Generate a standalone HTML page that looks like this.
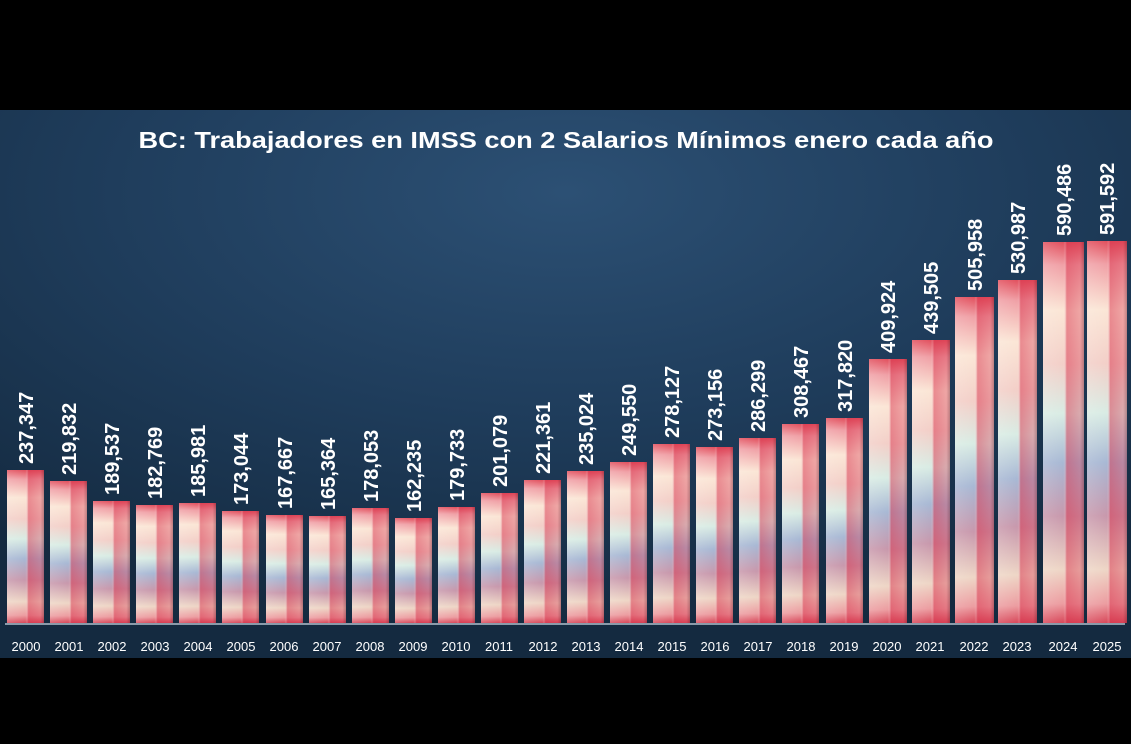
<!DOCTYPE html>
<html><head><meta charset="utf-8"><style>
html,body{margin:0;padding:0;background:#000;}
svg{display:block;}
text{font-family:"Liberation Sans",sans-serif;font-weight:bold;fill:#fff;}
text.y{font-weight:normal;}
</style></head><body>
<svg width="1131" height="744" viewBox="0 0 1131 744" xmlns="http://www.w3.org/2000/svg">
<defs>
<radialGradient id="bg" cx="0.5" cy="0.15" r="0.8">
<stop offset="0" stop-color="#2c5074"/><stop offset="0.5" stop-color="#1f3d5c"/><stop offset="1" stop-color="#142a40"/>
</radialGradient>
<linearGradient id="note" x1="0" y1="0" x2="0" y2="1">
<stop offset="0" stop-color="#e2505e"/>
<stop offset="0.06" stop-color="#f0a0a6"/>
<stop offset="0.18" stop-color="#fbe6d6"/>
<stop offset="0.32" stop-color="#f3cfc8"/>
<stop offset="0.45" stop-color="#d9ece4"/>
<stop offset="0.58" stop-color="#a8b8d4"/>
<stop offset="0.72" stop-color="#c898ac"/>
<stop offset="0.86" stop-color="#eed6c6"/>
<stop offset="0.95" stop-color="#ec9ca0"/>
<stop offset="1" stop-color="#d8485a"/>
</linearGradient>
<linearGradient id="side" x1="0" y1="0" x2="1" y2="0">
<stop offset="0" stop-color="#ffffff" stop-opacity="0.15"/>
<stop offset="0.5" stop-color="#ffffff" stop-opacity="0"/>
<stop offset="0.58" stop-color="#d8304a" stop-opacity="0.5"/>
<stop offset="0.9" stop-color="#d8304a" stop-opacity="0.35"/>
<stop offset="1" stop-color="#7a2030" stop-opacity="0.5"/>
</linearGradient>
</defs>
<rect x="0" y="0" width="1131" height="744" fill="#000"/>
<rect x="0" y="110" width="1131" height="548" fill="url(#bg)"/>
<text x="566" y="148" font-size="23" text-anchor="middle" textLength="855" lengthAdjust="spacingAndGlyphs">BC: Trabajadores en IMSS con 2 Salarios Mínimos enero cada año</text>
<line x1="5" y1="624" x2="1125" y2="624" stroke="#8a9aaa" stroke-width="2"/>
<g id="bars">
<rect x="7" y="470" width="37" height="153" fill="url(#note)"/>
<rect x="50" y="481" width="37" height="142" fill="url(#note)"/>
<rect x="93" y="501" width="37" height="122" fill="url(#note)"/>
<rect x="136" y="505" width="37" height="118" fill="url(#note)"/>
<rect x="179" y="503" width="37" height="120" fill="url(#note)"/>
<rect x="222" y="511" width="37" height="112" fill="url(#note)"/>
<rect x="266" y="515" width="37" height="108" fill="url(#note)"/>
<rect x="309" y="516" width="37" height="107" fill="url(#note)"/>
<rect x="352" y="508" width="37" height="115" fill="url(#note)"/>
<rect x="395" y="518" width="37" height="105" fill="url(#note)"/>
<rect x="438" y="507" width="37" height="116" fill="url(#note)"/>
<rect x="481" y="493" width="37" height="130" fill="url(#note)"/>
<rect x="524" y="480" width="37" height="143" fill="url(#note)"/>
<rect x="567" y="471" width="37" height="152" fill="url(#note)"/>
<rect x="610" y="462" width="37" height="161" fill="url(#note)"/>
<rect x="653" y="444" width="37" height="179" fill="url(#note)"/>
<rect x="696" y="447" width="37" height="176" fill="url(#note)"/>
<rect x="739" y="438" width="37" height="185" fill="url(#note)"/>
<rect x="782" y="424" width="37" height="199" fill="url(#note)"/>
<rect x="826" y="418" width="37" height="205" fill="url(#note)"/>
<rect x="869" y="359" width="38" height="264" fill="url(#note)"/>
<rect x="912" y="340" width="38" height="283" fill="url(#note)"/>
<rect x="955" y="297" width="39" height="326" fill="url(#note)"/>
<rect x="998" y="280" width="39" height="343" fill="url(#note)"/>
<rect x="1043" y="242" width="41" height="381" fill="url(#note)"/>
<rect x="1087" y="241" width="40" height="382" fill="url(#note)"/>
</g>
<g fill="url(#side)">
<rect x="7" y="470" width="37" height="153"/>
<rect x="50" y="481" width="37" height="142"/>
<rect x="93" y="501" width="37" height="122"/>
<rect x="136" y="505" width="37" height="118"/>
<rect x="179" y="503" width="37" height="120"/>
<rect x="222" y="511" width="37" height="112"/>
<rect x="266" y="515" width="37" height="108"/>
<rect x="309" y="516" width="37" height="107"/>
<rect x="352" y="508" width="37" height="115"/>
<rect x="395" y="518" width="37" height="105"/>
<rect x="438" y="507" width="37" height="116"/>
<rect x="481" y="493" width="37" height="130"/>
<rect x="524" y="480" width="37" height="143"/>
<rect x="567" y="471" width="37" height="152"/>
<rect x="610" y="462" width="37" height="161"/>
<rect x="653" y="444" width="37" height="179"/>
<rect x="696" y="447" width="37" height="176"/>
<rect x="739" y="438" width="37" height="185"/>
<rect x="782" y="424" width="37" height="199"/>
<rect x="826" y="418" width="37" height="205"/>
<rect x="869" y="359" width="38" height="264"/>
<rect x="912" y="340" width="38" height="283"/>
<rect x="955" y="297" width="39" height="326"/>
<rect x="998" y="280" width="39" height="343"/>
<rect x="1043" y="242" width="41" height="381"/>
<rect x="1087" y="241" width="40" height="382"/>
</g>
<g font-size="20">
<text transform="translate(33,464) rotate(-90)">237,347</text>
<text transform="translate(76,475) rotate(-90)">219,832</text>
<text transform="translate(119,495) rotate(-90)">189,537</text>
<text transform="translate(162,499) rotate(-90)">182,769</text>
<text transform="translate(205,497) rotate(-90)">185,981</text>
<text transform="translate(248,505) rotate(-90)">173,044</text>
<text transform="translate(292,509) rotate(-90)">167,667</text>
<text transform="translate(335,510) rotate(-90)">165,364</text>
<text transform="translate(378,502) rotate(-90)">178,053</text>
<text transform="translate(421,512) rotate(-90)">162,235</text>
<text transform="translate(464,501) rotate(-90)">179,733</text>
<text transform="translate(507,487) rotate(-90)">201,079</text>
<text transform="translate(550,474) rotate(-90)">221,361</text>
<text transform="translate(593,465) rotate(-90)">235,024</text>
<text transform="translate(636,456) rotate(-90)">249,550</text>
<text transform="translate(679,438) rotate(-90)">278,127</text>
<text transform="translate(722,441) rotate(-90)">273,156</text>
<text transform="translate(765,432) rotate(-90)">286,299</text>
<text transform="translate(808,418) rotate(-90)">308,467</text>
<text transform="translate(852,412) rotate(-90)">317,820</text>
<text transform="translate(895,353) rotate(-90)">409,924</text>
<text transform="translate(938,334) rotate(-90)">439,505</text>
<text transform="translate(982,291) rotate(-90)">505,958</text>
<text transform="translate(1025,274) rotate(-90)">530,987</text>
<text transform="translate(1071,236) rotate(-90)">590,486</text>
<text transform="translate(1114,235) rotate(-90)">591,592</text>
</g>
<g font-size="13" text-anchor="middle">
<text class="y" x="26" y="651">2000</text><text class="y" x="69" y="651">2001</text><text class="y" x="112" y="651">2002</text>
<text class="y" x="155" y="651">2003</text><text class="y" x="198" y="651">2004</text><text class="y" x="241" y="651">2005</text>
<text class="y" x="284" y="651">2006</text><text class="y" x="327" y="651">2007</text><text class="y" x="370" y="651">2008</text>
<text class="y" x="413" y="651">2009</text><text class="y" x="456" y="651">2010</text><text class="y" x="499" y="651">2011</text>
<text class="y" x="543" y="651">2012</text><text class="y" x="586" y="651">2013</text><text class="y" x="629" y="651">2014</text>
<text class="y" x="672" y="651">2015</text><text class="y" x="715" y="651">2016</text><text class="y" x="758" y="651">2017</text>
<text class="y" x="801" y="651">2018</text><text class="y" x="844" y="651">2019</text><text class="y" x="887" y="651">2020</text>
<text class="y" x="930" y="651">2021</text><text class="y" x="974" y="651">2022</text><text class="y" x="1017" y="651">2023</text>
<text class="y" x="1063" y="651">2024</text><text class="y" x="1107" y="651">2025</text>
</g>
</svg>
</body></html>
